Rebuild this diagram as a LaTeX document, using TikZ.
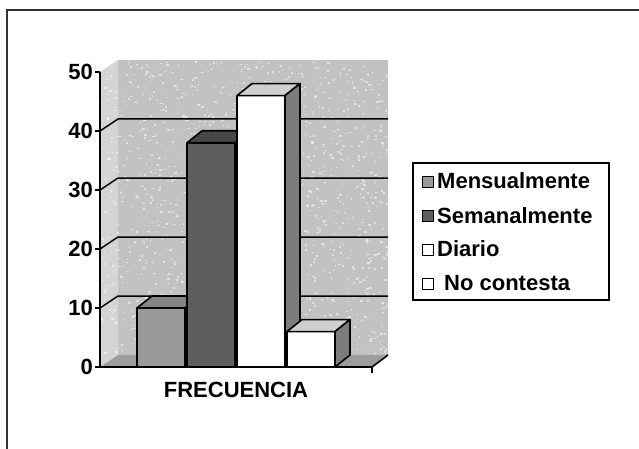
\documentclass[tikz,border=0pt]{standalone}
\usepackage{fontspec}
\setmainfont{Liberation Sans}
\definecolor{wallc}{HTML}{C2C2C2}
\definecolor{sidewallc}{HTML}{D4D4D4}
\definecolor{floorc}{HTML}{9C9C9C}
\definecolor{mensc}{HTML}{9A9A9A}
\definecolor{menstop}{HTML}{858585}
\definecolor{semc}{HTML}{5E5E5E}
\definecolor{semtop}{HTML}{474747}
\definecolor{whtop}{HTML}{CFCFCF}
\definecolor{whside}{HTML}{7C7C7C}
\newcommand\drawbar[5]{%
  \pgfmathsetmacro\yt{367-5.9*#2}
  \filldraw[barline,fill=#3] (#1,367) rectangle (#1+48,\yt);
  \filldraw[barline,fill=#4] (#1,\yt) -- (#1+15,\yt-12) -- (#1+63,\yt-12) -- (#1+48,\yt) -- cycle;
  \filldraw[barline,fill=#5] (#1+48,367) -- (#1+48,\yt) -- (#1+63,\yt-12) -- (#1+63,355) -- cycle;
}
\begin{document}
\begin{tikzpicture}[x=1pt,y=-1pt,
  barline/.style={draw=black,line width=1.6pt,line join=round},
  gridl/.style={draw=black,line width=1.5pt},
  txt/.style={font=\fontsize{22}{22}\selectfont\bfseries,inner sep=0pt},
  legmark/.style={draw=black,line width=1.2pt,minimum size=11pt,inner sep=0pt}]
\useasboundingbox (0,0) rectangle (639,449);
\fill[white] (0,0) rectangle (639,449);
% outer frame
\draw[line width=1.6pt,black!80] (7,449) -- (7,10) -- (639,10);
% walls
\fill[wallc] (118,60) rectangle (388,355);
\fill[sidewallc] (100,72) -- (118,60) -- (118,355) -- (100,367) -- cycle;
\pgfmathsetseed{11}
\foreach \i in {1,...,1400}{
  \pgfmathsetmacro\xx{100+287*rnd}
  \pgfmathsetmacro\yy{61+293*rnd}
  \pgfmathsetmacro\ww{1+2*rnd}
  \fill[white,opacity=0.5] (\xx,\yy) rectangle ++(\ww,1.5);
}
\fill[floorc] (100,367) -- (118,355) -- (388,355) -- (372,367) -- cycle;
% gridlines
\foreach \v in {10,20,30,40}{
  \pgfmathsetmacro\yy{367-5.9*\v}
  \draw[gridl] (100,\yy) -- (118,\yy-12) -- (388,\yy-12);
}
% bars
\drawbar{137}{10}{mensc}{menstop}{menstop}
\drawbar{187}{38}{semc}{semtop}{semtop}
\drawbar{237}{46}{white}{whtop}{whside}
\drawbar{287}{6}{white}{whtop}{whside}
% axes
\draw[line width=1.6pt] (100,72) -- (100,367) -- (372,367) -- (388,355);
\draw[line width=1.4pt] (372,367) -- (372,373);
\foreach \v in {0,10,20,30,40,50}{
  \pgfmathsetmacro\yy{367-5.9*\v}
  \draw[line width=1.4pt] (95,\yy) -- (100,\yy);
  \node[txt,anchor=east] (lab\v) at (93,\yy) {\v};
}
\node[txt] (cat) at (236,390) {FRECUENCIA};
% legend
\draw[line width=1.6pt] (413,163) rectangle (609,300);
\node[legmark,fill=mensc] (m1) at (428,182) {};
\node[legmark,fill=semc] (m2) at (428,216) {};
\node[legmark,fill=white] (m3) at (428,250) {};
\node[legmark,fill=white] (m4) at (428,284) {};
\node[txt,anchor=base west] (t1) at (437,189) {Mensualmente};
\node[txt,anchor=base west] (t2) at (437,223) {Semanalmente};
\node[txt,anchor=base west] (t3) at (437,256) {Diario};
\node[txt,anchor=base west] (t4) at (444,290) {No contesta};
\end{tikzpicture}
\end{document}
